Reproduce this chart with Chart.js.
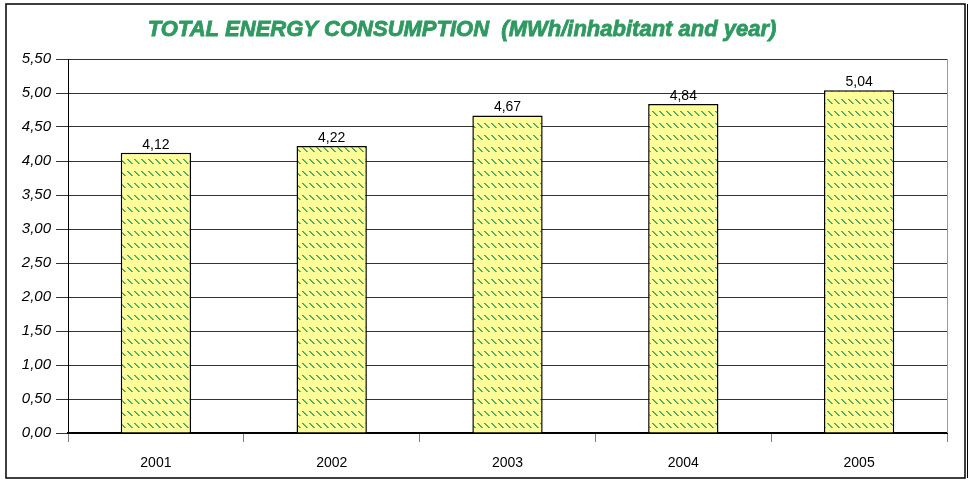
<!DOCTYPE html>
<html>
<head>
<meta charset="utf-8">
<script src="https://cdn.jsdelivr.net/npm/chart.js@4/dist/chart.umd.min.js"></script>
<style>
  html, body { margin: 0; padding: 0; background: #fff; }
  #wrap { width: 971px; height: 481px; }
</style>
</head>
<body>
<div id="wrap"><canvas id="chart" width="971" height="481"></canvas></div>
<script>
const years = ['2001', '2002', '2003', '2004', '2005'];
const consumption = [4.12, 4.22, 4.67, 4.84, 5.04];
const titleText = 'TOTAL ENERGY CONSUMPTION  (MWh/inhabitant and year)';

const fmt = v => v.toFixed(2).replace('.', ',');
const FONT = '"Liberation Sans", Arial, sans-serif';

// yellow fill with small green diagonal dashes, like the old office hatch
function makeHatch() {
    const tile = document.createElement('canvas');
    tile.width = 7;
    tile.height = 12;
    const c = tile.getContext('2d');
    c.fillStyle = '#FFFF99';
    c.fillRect(0, 0, 7, 12);
    c.fillStyle = '#3fa35e';
    for (let i = 0; i < 5; i++) {
        c.fillRect(1 + i, 3 + i, 1, 1);
    }
    c.fillStyle = 'rgba(63,163,94,0.75)';
    for (let i = 0; i < 5; i++) {
        c.fillRect(2 + i, 3 + i, 1, 1);
    }
    return c.createPattern(tile, 'repeat');
}

const decor = {
    id: 'decor',
    beforeDatasetsDraw(chart) {
        const { ctx, chartArea: a } = chart;
        ctx.save();
        ctx.strokeStyle = '#999';
        ctx.lineWidth = 1;
        ctx.beginPath();
        ctx.moveTo(a.right + 0.5, a.top);
        ctx.lineTo(a.right + 0.5, a.bottom);
        ctx.stroke();
        ctx.restore();
    },
    afterDraw(chart) {
        const { ctx } = chart;
        ctx.save();
        // outer frame
        ctx.strokeStyle = '#000';
        ctx.lineWidth = 1.5;
        ctx.strokeRect(6, 4, 959, 474);
        ctx.lineWidth = 1;
        ctx.beginPath();
        ctx.moveTo(967.5, 4);
        ctx.lineTo(967.5, 478);
        ctx.stroke();
        // title, a bit heavier than plain bold
        ctx.fillStyle = '#2e9960';
        ctx.strokeStyle = '#2e9960';
        ctx.lineWidth = 0.8;
        ctx.font = 'italic bold 22px ' + FONT;
        ctx.textAlign = 'center';
        ctx.textBaseline = 'middle';
        ctx.fillText(titleText, 462, 30);
        ctx.strokeText(titleText, 462, 30);
        // value labels
        ctx.fillStyle = '#000';
        ctx.font = '14px ' + FONT;
        ctx.textBaseline = 'bottom';
        const meta = chart.getDatasetMeta(0);
        meta.data.forEach((bar, i) => {
            ctx.fillText(fmt(consumption[i]), bar.x, bar.y - 1);
        });
        ctx.restore();
    }
};

new Chart(document.getElementById('chart'), {
    type: 'bar',
    data: {
        labels: years,
        datasets: [{
            data: consumption,
            backgroundColor: makeHatch(),
            borderColor: '#000',
            borderWidth: 1.5,
            borderSkipped: 'bottom',
            barPercentage: 0.8,
            categoryPercentage: 0.5
        }]
    },
    options: {
        responsive: false,
        animation: false,
        layout: { padding: { left: 0, right: 24, top: 59, bottom: 0 } },
        plugins: {
            legend: { display: false },
            title: { display: false },
            tooltip: { enabled: false }
        },
        scales: {
            x: {
                grid: { drawOnChartArea: false, tickLength: 9, color: '#808080' },
                border: { color: '#000', width: 2 },
                ticks: {
                    color: '#000',
                    padding: 13,
                    font: { family: FONT, size: 14 }
                },
                afterFit(s) { s.height = 48; }
            },
            y: {
                min: 0,
                max: 5.5,
                grid: { color: '#333', tickLength: 12 },
                border: { color: '#000', width: 1 },
                ticks: {
                    stepSize: 0.5,
                    color: '#000',
                    padding: 5,
                    callback: v => fmt(v),
                    font: { family: FONT, size: 15, style: 'italic' }
                },
                afterFit(s) { s.width = 68; }
            }
        }
    },
    plugins: [decor]
});
</script>
</body>
</html>
